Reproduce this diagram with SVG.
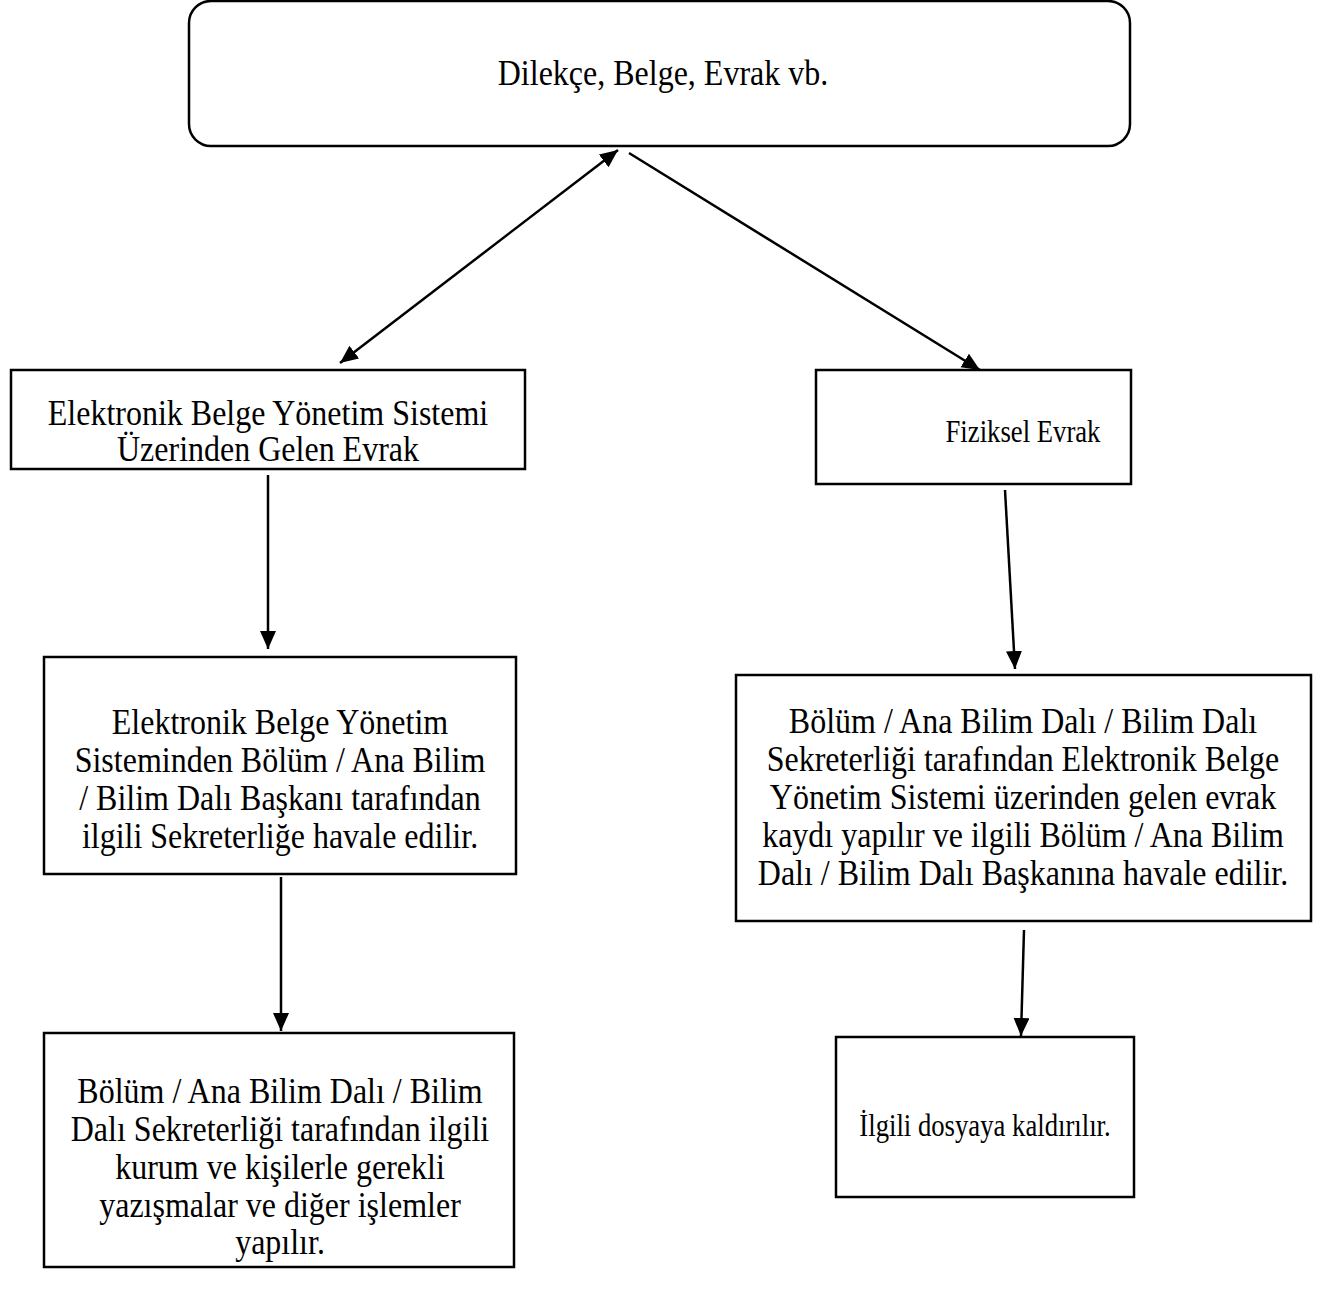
<svg xmlns="http://www.w3.org/2000/svg" width="1319" height="1297" viewBox="0 0 1319 1297">
<style>
.box{fill:#fff;stroke:#000;stroke-width:2.5}
.t{font-family:"Liberation Serif","Times New Roman",serif;font-size:32px;fill:#000;text-anchor:middle}
.s{font-size:26.7px}
.c{stroke:#000;stroke-width:2.5;fill:none}
</style>
<defs>
<marker id="ah" markerUnits="userSpaceOnUse" markerWidth="20" markerHeight="18" refX="18" refY="8" orient="auto-start-reverse">
<path d="M0,0 L18,8 L0,16 z" fill="#000"/>
</marker>
</defs>
<rect width="1319" height="1297" fill="#fff"/>
<g id="connectors">
<line class="c" x1="340" y1="363" x2="618" y2="150" marker-start="url(#ah)" marker-end="url(#ah)"/>
<line class="c" x1="629" y1="153" x2="980" y2="370" marker-end="url(#ah)"/>
<line class="c" x1="268" y1="475" x2="268" y2="649" marker-end="url(#ah)"/>
<line class="c" x1="281" y1="877" x2="281" y2="1031" marker-end="url(#ah)"/>
<line class="c" x1="1005" y1="490" x2="1015" y2="669" marker-end="url(#ah)"/>
<line class="c" x1="1024" y1="930" x2="1021" y2="1036" marker-end="url(#ah)"/>
</g>
<g id="n1">
<rect class="box" x="189" y="1" width="941" height="145" rx="22" ry="22"/>
<text class="t" transform="translate(663,85) scale(1,1.12)">Dilekçe, Belge, Evrak vb.</text>
</g>
<g id="n2">
<rect class="box" x="11" y="370" width="514" height="99"/>
<text class="t" transform="translate(268,425) scale(1,1.12)">Elektronik Belge Yönetim Sistemi</text>
<text class="t" transform="translate(268,461) scale(1,1.12)">Üzerinden Gelen Evrak</text>
</g>
<g id="n3">
<rect class="box" x="816" y="370" width="315" height="114"/>
<text class="t s" transform="translate(1023,442) scale(1,1.15)">Fiziksel Evrak</text>
</g>
<g id="n4">
<rect class="box" x="44" y="657" width="472" height="217"/>
<text class="t" transform="translate(280,734) scale(1,1.12)">Elektronik Belge Yönetim</text>
<text class="t" transform="translate(280,772) scale(1,1.12)">Sisteminden Bölüm / Ana Bilim</text>
<text class="t" transform="translate(280,810) scale(1,1.12)">/ Bilim Dalı Başkanı tarafından</text>
<text class="t" transform="translate(280,848) scale(1,1.12)">ilgili Sekreterliğe havale edilir.</text>
</g>
<g id="n5">
<rect class="box" x="44" y="1033" width="470" height="234"/>
<text class="t" transform="translate(280,1103) scale(1,1.12)">Bölüm / Ana Bilim Dalı / Bilim</text>
<text class="t" transform="translate(280,1141) scale(1,1.12)">Dalı Sekreterliği tarafından ilgili</text>
<text class="t" transform="translate(280,1179) scale(1,1.12)">kurum ve kişilerle gerekli</text>
<text class="t" transform="translate(280,1217) scale(1,1.12)">yazışmalar ve diğer işlemler</text>
<text class="t" transform="translate(280,1254) scale(1,1.12)">yapılır.</text>
</g>
<g id="n6">
<rect class="box" x="736" y="675" width="575" height="246"/>
<text class="t" transform="translate(1023,733) scale(1,1.12)">Bölüm / Ana Bilim Dalı / Bilim Dalı</text>
<text class="t" transform="translate(1023,771) scale(1,1.12)">Sekreterliği tarafından Elektronik Belge</text>
<text class="t" transform="translate(1023,809) scale(1,1.12)">Yönetim Sistemi üzerinden gelen evrak</text>
<text class="t" transform="translate(1023,847) scale(1,1.12)">kaydı yapılır ve ilgili Bölüm / Ana Bilim</text>
<text class="t" transform="translate(1023,885) scale(1,1.12)">Dalı / Bilim Dalı Başkanına havale edilir.</text>
</g>
<g id="n7">
<rect class="box" x="836" y="1037" width="298" height="160"/>
<text class="t s" transform="translate(985,1136) scale(1,1.15)">İlgili dosyaya kaldırılır.</text>
</g>
</svg>
